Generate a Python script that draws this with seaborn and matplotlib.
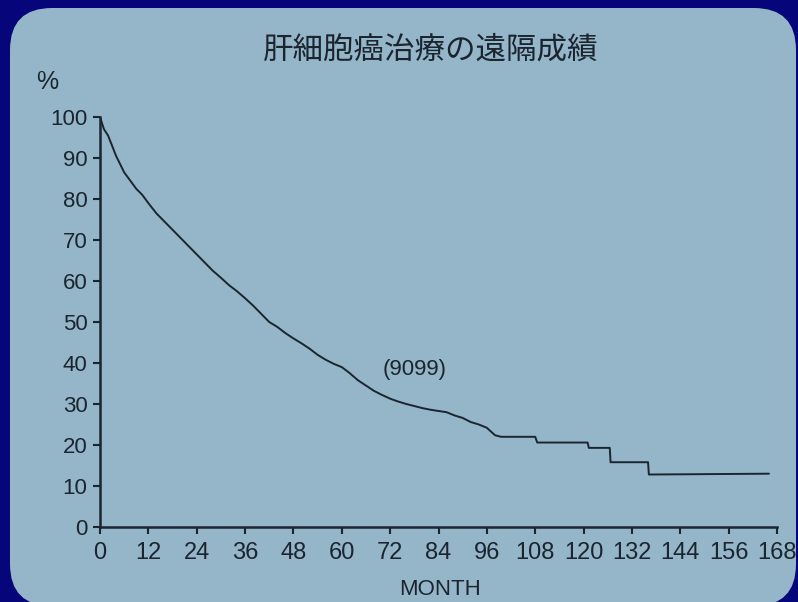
import matplotlib
matplotlib.use('Agg')
import matplotlib.pyplot as plt
from matplotlib.patches import FancyBboxPatch
import numpy as np
import pandas as pd
import seaborn as sns

# 生存曲線 (読み取り値)
month = [0, 0.5, 1, 2, 3, 4, 5, 6, 7.5, 9, 10.5, 12, 14, 16, 18, 20, 22, 24,
         26, 28, 30, 32, 34, 36, 38, 40, 42, 44, 46, 48, 50, 52, 54, 56, 58,
         60, 62, 64, 66, 68, 70, 72, 74, 76, 78, 80, 82, 84, 86, 88, 90, 92,
         94, 96, 97, 98, 99.5, 108, 108.5, 121, 121.3, 126.5, 126.7, 136,
         136.2, 166]
survival = [100, 98.5, 97, 95.5, 93, 90.5, 88.5, 86.5, 84.5, 82.5, 81, 79,
            76.5, 74.5, 72.5, 70.5, 68.5, 66.5, 64.5, 62.5, 60.8, 59, 57.5,
            55.8, 54, 52, 50, 48.8, 47.3, 46, 44.8, 43.5, 42, 40.8, 39.8, 39,
            37.5, 35.8, 34.5, 33.2, 32.2, 31.3, 30.6, 30, 29.5, 29, 28.6, 28.3,
            28, 27.2, 26.6, 25.6, 25, 24.2, 23.3, 22.4, 22, 22, 20.6, 20.6,
            19.3, 19.3, 15.8, 15.8, 12.8, 13]

x_ticks = list(range(0, 169, 12))
y_ticks = list(range(0, 101, 10))
title = '肝細胞癌治療の遠隔成績'
n_label = '(9099)'

navy = '#06067a'
paper = '#95b5c8'
ink = '#1b2530'

sns.set_theme(style='ticks')
plt.rcParams['font.family'] = ['Liberation Sans', 'DejaVu Sans']

fig = plt.figure(figsize=(7.98, 6.02), dpi=100, facecolor=navy)

# 紙の部分 (角丸)
fig.patches.append(FancyBboxPatch((10, -4), 786, 598,
                                  boxstyle='round,pad=0,rounding_size=42',
                                  transform=None, facecolor=paper,
                                  edgecolor='none', zorder=-10))

ax = fig.add_axes([0.1253, 0.1246, 0.8484, 0.681])
ax.set_facecolor('none')
ax.set_zorder(5)

df = pd.DataFrame({'month': month, 'survival': survival})
sns.lineplot(data=df, x='month', y='survival', ax=ax, estimator=None,
             sort=False, color=ink, linewidth=1.4)

ax.set_xlim(0, 168)
ax.set_ylim(0, 100)
ax.set_xticks(x_ticks)
ax.set_yticks(y_ticks)
ax.set_xlabel('')
ax.set_ylabel('')
sns.despine(ax=ax)
for s in ['left', 'bottom']:
    ax.spines[s].set_color(ink)
    ax.spines[s].set_linewidth(1.8)
ax.tick_params(axis='both', colors=ink, length=5, width=1.5, direction='out')
ax.tick_params(axis='x', labelsize=17, pad=6)
ax.tick_params(axis='y', labelsize=16, pad=4)

ax.text(78, 38.5, n_label, ha='center', va='center', fontsize=16, color=ink)

fig.text(0.059, 0.864, '%', ha='center', va='center', fontsize=18, color=ink)
fig.text(0.551, 0.020, 'MONTH', ha='center', va='center', fontsize=16,
         color=ink)
fig.text(0.54, 0.916, title, ha='center', va='center', fontsize=22,
         color=ink, family=['Noto Sans CJK JP', 'DejaVu Sans'])

fig.savefig('out.png', dpi=100, facecolor=navy)
